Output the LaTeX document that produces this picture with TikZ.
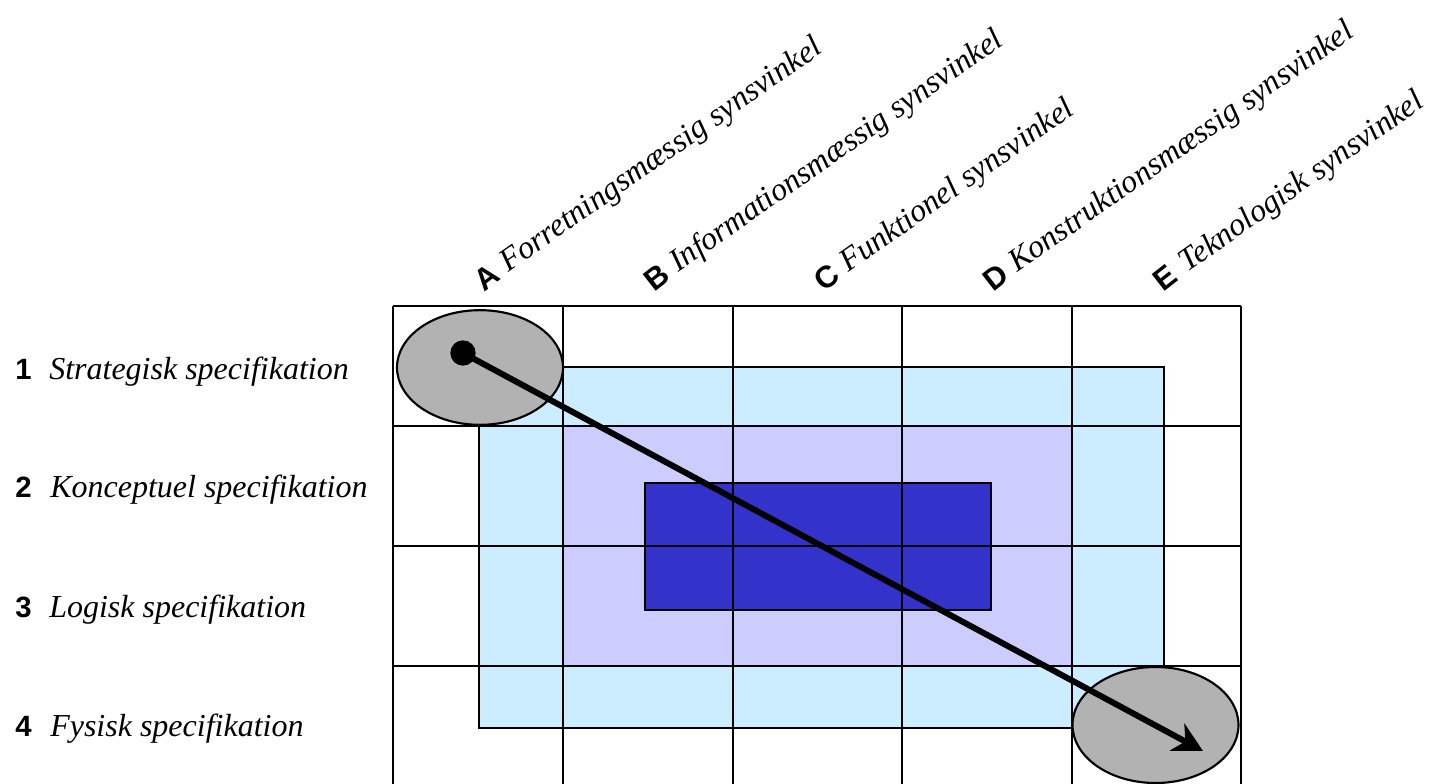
\documentclass[tikz,border=0pt]{standalone}
\usepackage{fontspec}
\setmainfont{Liberation Serif}
\setsansfont{Liberation Sans}
\usetikzlibrary{shapes.geometric,arrows.meta}
\definecolor{zoneouter}{HTML}{CCECFF}
\definecolor{zonemid}{HTML}{CCCCFF}
\definecolor{zoneinner}{HTML}{3333CC}
\definecolor{endgray}{HTML}{B2B2B2}
\tikzset{
  gridline/.style={line width=1.8pt, black},
  zone/.style={draw=black, line width=1.8pt},
  numlabel/.style={anchor=base west, inner sep=0pt, font=\sffamily\bfseries\fontsize{22}{26}\selectfont},
  rowtext/.style={anchor=base west, inner sep=0pt, font=\itshape\fontsize{24}{28}\selectfont},
  colletter/.style={anchor=base west, inner sep=0pt, rotate=38, font=\sffamily\bfseries\fontsize{23}{26}\selectfont},
  coltext/.style={anchor=base west, inner sep=0pt, rotate=35, font=\itshape\fontsize{24}{28}\selectfont},
  endpoint/.style={ellipse, draw=black, line width=1.6pt, fill=endgray, inner sep=0pt},
  startdot/.style={circle, fill=black, inner sep=0pt, minimum size=19pt},
  pathline/.style={line width=4.5pt, -{Stealth[length=22pt,width=23pt,inset=7pt]}}
}
\begin{document}
\begin{tikzpicture}[x=0.75pt,y=-0.75pt]
\useasboundingbox (0,0) rectangle (1439,784);
\clip (0,0) rectangle (1439,784);
% zones
\filldraw[zone, fill=zoneouter] (479,367) rectangle (1164,728);
\filldraw[zone, fill=zonemid] (563,426) rectangle (1072,666);
\filldraw[zone, fill=zoneinner] (645,483) rectangle (991,610);
% grid
\foreach \x in {393,563,733,902,1072,1241} \draw[gridline] (\x,306) -- (\x,790);
\foreach \y in {306,426,546,666} \draw[gridline] (393,\y) -- (1241,\y);
% row labels
\node[numlabel] (n1) at (15,379) {1};
\node[rowtext] (r1) at (49,379) {Strategisk specifikation};
\node[numlabel] (n2) at (15,497) {2};
\node[rowtext] (r2) at (50,497) {Konceptuel specifikation};
\node[numlabel] (n3) at (15,617) {3};
\node[rowtext] (r3) at (49,617) {Logisk specifikation};
\node[numlabel] (n4) at (15,736) {4};
\node[rowtext] (r4) at (50,736) {Fysisk specifikation};
% column labels
\node[colletter] (cA) at (484,293) {A};
\node[coltext] (tA) at (508,273) {Forretningsmæssig synsvinkel};
\node[colletter] (cB) at (654,293) {B};
\node[coltext] (tB) at (678,273) {Informationsmæssig synsvinkel};
\node[colletter] (cC) at (824,293) {C};
\node[coltext] (tC) at (848,273) {Funktionel synsvinkel};
\node[colletter] (cD) at (993,293) {D};
\node[coltext] (tD) at (1017,273) {Konstruktionsmæssig synsvinkel};
\node[colletter] (cE) at (1163,293) {E};
\node[coltext] (tE) at (1187,273) {Teknologisk synsvinkel};
% endpoints
\node[endpoint, minimum width=124.5pt, minimum height=86pt] (start) at (480,367.5) {};
\node[endpoint, minimum width=124.5pt, minimum height=87pt] (finish) at (1155.5,725) {};
\node[startdot] (dot) at (463,353) {};
\coordinate (tip) at (1203,751);
\draw[pathline] (dot.center) -- (tip);
\end{tikzpicture}
\end{document}
